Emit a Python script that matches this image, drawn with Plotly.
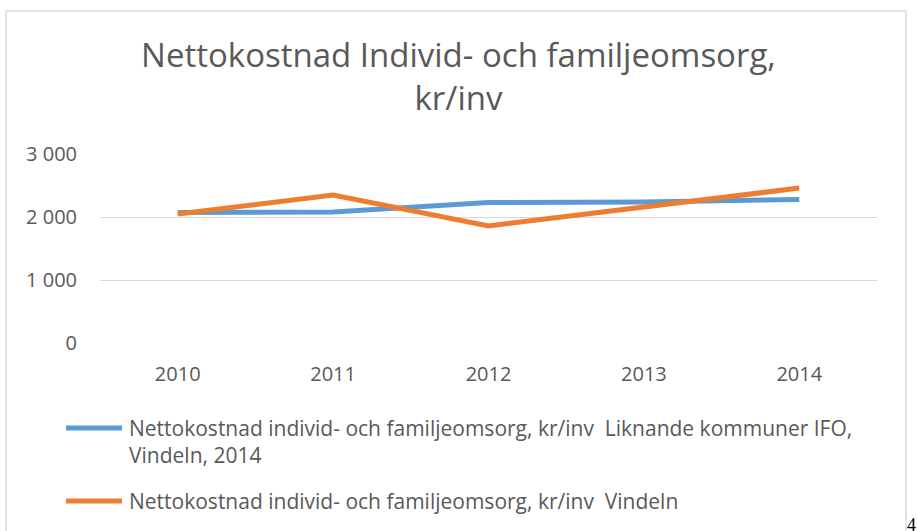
import plotly.graph_objects as go

years = ["2010", "2011", "2012", "2013", "2014"]
liknande = [2070, 2080, 2230, 2240, 2277]
vindeln = [2049, 2347, 1858, 2162, 2459]
series_names = [
    "Nettokostnad individ- och familjeomsorg, kr/inv  Liknande kommuner IFO,<br>Vindeln, 2014",
    "Nettokostnad individ- och familjeomsorg, kr/inv  Vindeln",
]
series_colors = ["#5B9BD5", "#ED7D31"]
title_text = "Nettokostnad Individ- och familjeomsorg,<br>kr/inv"
y_ticks = [0, 1000, 2000, 3000]
y_ticktext = ["0", "1 000", "2 000", "3 000"]

W, H = 917, 531
L, R, T, B = 100, 40, 154, 188
PW, PH = W - L - R, H - T - B

def px(x):
    return (x - L) / PW

def py(y):
    return (H - B - y) / PH

FONT = "'Open Sans', Lato, sans-serif"
GREY = "#595959"

fig = go.Figure()
for name, vals, col in zip(series_names, [liknande, vindeln], series_colors):
    fig.add_trace(go.Scatter(
        x=years, y=vals, mode="lines", name=name.replace("<br>", " "),
        line=dict(color=col, width=5), showlegend=False,
    ))

shapes = [
    # chart frame
    dict(type="rect", xref="paper", yref="paper",
         x0=px(6), x1=px(906), y0=py(540), y1=py(11),
         line=dict(color="#D9D9D9", width=1.5), fillcolor="rgba(0,0,0,0)", layer="below"),
]
annotations = []
legend_y = [428, 501]
for name, col, ly in zip(series_names, series_colors, legend_y):
    shapes.append(dict(type="line", xref="paper", yref="paper",
                       x0=px(66), x1=px(122), y0=py(ly), y1=py(ly),
                       line=dict(color=col, width=5)))
    annotations.append(dict(xref="paper", yref="paper", x=px(127), y=py(ly - 16),
                            xanchor="left", yanchor="top", align="left", showarrow=False,
                            text=name, font=dict(family=FONT, size=21, color=GREY)))

annotations.append(dict(xref="paper", yref="paper", x=px(905), y=py(531), xanchor="left",
                        yanchor="bottom", showarrow=False, text="4", yshift=-6,
                        font=dict(family="'Liberation Serif', serif", size=18, color="#000000")))

fig.update_layout(
    width=W, height=H,
    margin=dict(l=L, r=R, t=T, b=B, pad=0),
    paper_bgcolor="white", plot_bgcolor="white",
    title=dict(text=title_text, x=0.5, xanchor="center", xref="container",
               y=1 - 67 / H, yanchor="middle", yref="container",
               font=dict(family=FONT, size=33, color=GREY)),
    xaxis=dict(type="category", range=[-0.5, 4.5], showgrid=False, showline=False,
               zeroline=False, ticks="", ticklabelstandoff=17,
               tickfont=dict(family=FONT, size=20, color=GREY)),
    yaxis=dict(range=[0, 3000], tickvals=y_ticks, ticktext=y_ticktext, showgrid=True,
               gridcolor="#D9D9D9", gridwidth=1.3, zeroline=False, showline=False,
               ticks="", ticklabelstandoff=22,
               tickfont=dict(family=FONT, size=20, color=GREY)),
    shapes=shapes, annotations=annotations, showlegend=False,
)

fig.write_html("out.html", config={"displayModeBar": False},
               post_script="document.body.style.margin='0';document.body.style.overflow='hidden';")
